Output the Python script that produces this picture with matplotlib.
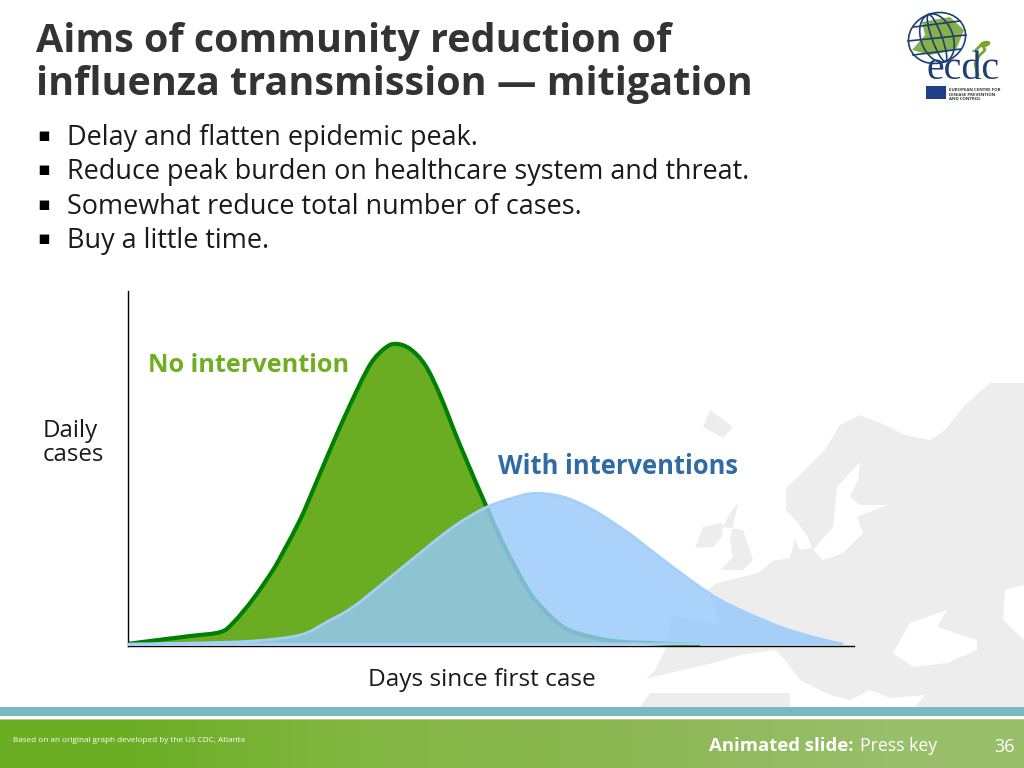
import numpy as np
import matplotlib
matplotlib.use("Agg")
import matplotlib.pyplot as plt
from matplotlib.patches import Ellipse, PathPatch, Polygon, Rectangle
from matplotlib.path import Path

# curves (arbitrary units, peak of first curve about 85)
days_none = [0, 4.4, 12.4, 18.4, 21, 25, 29, 31, 34.4, 37, 40.4, 44.4, 48.4, 51.4, 53.6,
             56.4, 59.4, 62.4, 66.4, 71.8, 74.4, 77, 80.4, 83.8, 87, 90.4, 97, 105, 114.4]
cases_none = [0.6, 1.4, 2.8, 3.9, 6.5, 13.2, 21.4, 26.4, 35.5, 43.9, 55.2, 67.9, 79.2, 83.9, 85.1,
              83.7, 79.2, 70.7, 56.6, 38.9, 30.7, 23.4, 14.9, 9.3, 5.4, 3.4, 1.4, 0.8, 0.3]
days_with = [0, 12.4, 25, 34.4, 39.8, 45, 51.8, 58.4, 65, 71.4, 77, 81.4, 87, 93, 99.8,
             106.4, 113, 118.4, 123.8, 130.4, 137, 142.8]
cases_with = [0.5, 0.8, 1.4, 3.1, 6.8, 11, 18.6, 26.2, 33.5, 38.9, 41.7, 43.0, 42, 38.3, 32.1,
              25, 18, 13, 9.3, 5.4, 2.5, 0.6]

title_lines = ["Aims of community reduction of", "influenza transmission \u2014 mitigation"]
bullets = ["Delay and flatten epidemic peak.",
           "Reduce peak burden on healthcare system and threat.",
           "Somewhat reduce total number of cases.",
           "Buy a little time."]

W, H = 1024, 768
plt.rcParams["font.family"] = ["Open Sans", "DejaVu Sans"]
fig = plt.figure(figsize=(W / 100, H / 100), dpi=100)


def px_text(x, y, s, size, color="#1a1a1a", weight="normal", **kw):
    # x, y in picture pixels, y is the baseline, size in pixels
    return fig.text(x / W, 1 - y / H, s, fontsize=size * 0.72, color=color,
                    fontweight=weight, va="baseline", **kw)


def smooth_path(xs, ys, close=False):
    # bezier through the read points, so the curve has no corners
    pts = np.column_stack([xs, ys]).astype(float)
    verts = [pts[0]]
    codes = [Path.MOVETO]
    for i in range(len(pts) - 1):
        p0 = pts[max(i - 1, 0)]
        p1 = pts[i]
        p2 = pts[i + 1]
        p3 = pts[min(i + 2, len(pts) - 1)]
        verts += [p1 + (p2 - p0) / 6, p2 - (p3 - p1) / 6, p2]
        codes += [Path.CURVE4] * 3
    if close:
        verts.append(pts[0])
        codes.append(Path.LINETO)
    return Path(np.array(verts), codes)


# slide background: pixel-coordinate axes
bg = fig.add_axes([0, 0, 1, 1])
bg.set_xlim(0, W)
bg.set_ylim(H, 0)
bg.axis("off")

GREY = "#ededed"
land = [[(1024, 383), (990, 383), (965, 405), (945, 430), (930, 440), (905, 435), (885, 425), (860, 415),
         (840, 425), (825, 450), (800, 475), (786, 488), (786, 510), (797, 522), (808, 537), (812, 548),
         (800, 550), (795, 540), (790, 558), (773, 561), (758, 573), (717, 583), (708, 590), (722, 626),
         (672, 616), (665, 650), (655, 670), (645, 680), (650, 693), (640, 707), (1024, 707)],
        [(710, 410), (733, 427), (723, 438), (703, 427), (708, 415)],
        [(695, 548), (703, 527), (723, 523), (722, 537), (713, 547)],
        [(738, 503), (730, 513), (723, 527), (743, 530), (753, 560), (743, 570), (720, 570), (733, 557),
         (730, 540)]]
seas = [[(860, 462), (837, 487), (833, 527), (813, 550), (823, 560), (843, 553), (863, 533), (857, 517),
         (887, 505), (860, 505), (850, 497), (858, 480)],
        [(640, 680), (713, 663), (740, 655), (775, 650), (785, 660), (800, 680), (830, 695), (850, 700),
         (870, 690), (890, 698), (925, 695), (915, 707), (790, 707), (790, 693), (650, 693)],
        [(893, 653), (910, 623), (947, 610), (937, 627), (977, 640), (977, 650), (947, 663), (913, 667)],
        [(1024, 585), (1005, 590), (1003, 620), (1024, 640)]]
for p in land:
    bg.add_patch(Polygon(p, closed=True, fc=GREY, ec="none", zorder=1))
for p in seas:
    bg.add_patch(Polygon(p, closed=True, fc="white", ec="none", zorder=2))

# footer bands
bg.add_patch(Rectangle((0, 707), W, 9, fc="#7ab9c2", ec="none", zorder=3))
bg.add_patch(Rectangle((0, 716), W, 4, fc="white", ec="none", zorder=3))
bg.add_patch(Rectangle((0, 719), W, 1, fc="#b5c9a0", ec="none", zorder=3))
grad = np.array([[[0.42, 0.68, 0.14], [0.52, 0.72, 0.27], [0.55, 0.72, 0.33], [0.60, 0.75, 0.42]]])
bg.imshow(grad, extent=(0, W, 768, 720), aspect="auto", interpolation="bilinear", zorder=3)
bg.set_xlim(0, W)
bg.set_ylim(H, 0)

# logo
NAVY = "#1d3f72"
LEAF = "#86b04a"
bg.add_patch(Polygon([(922, 22), (950, 17), (964, 30), (956, 50), (930, 55), (912, 50), (925, 35)],
                     closed=True, fc=LEAF, ec="none", zorder=5))
for w in (58, 32, 10):
    bg.add_patch(Ellipse((937, 38), w, 50, angle=-20, fc="none", ec=NAVY, lw=1.2, zorder=6))
for dy, w in ((-14, 46), (0, 58), (14, 48)):
    bg.plot([937 - w / 2, 937 + w / 2], [38 + dy + 3, 38 + dy - 3], color=NAVY, lw=1.2, zorder=6)
bg.plot([978, 975, 979, 985, 982, 976], [75, 64, 56, 50, 44, 50], color="#7aa62e", lw=2, zorder=6)
bg.add_patch(Ellipse((985, 44), 11, 6, angle=-15, fc="#7aa62e", ec="none", zorder=6))
px_text(926, 79, "ecdc", 40, color=NAVY, family="Liberation Serif")
bg.add_patch(Rectangle((926, 86), 20, 13, fc="#1f3f86", ec="none", zorder=6))
for i, line in enumerate(["EUROPEAN CENTRE FOR", "DISEASE PREVENTION", "AND CONTROL"]):
    px_text(949, 91 + i * 4.6, line, 4.4, color="#333333", weight="bold")

# chart
left, right, top, bottom = 128, 854, 291, 646
ax = fig.add_axes([left / W, 1 - bottom / H, (right - left) / W, (bottom - top) / H])
ax.patch.set_alpha(0)
ax.set_xlim(0, 145.2)
ax.set_ylim(0, 100)
ax.set_xticks([])
ax.set_yticks([])
ax.spines[["top", "right"]].set_visible(False)
for s in ("left", "bottom"):
    ax.spines[s].set_linewidth(1)
    ax.spines[s].set_color("black")

ax.add_patch(PathPatch(smooth_path(days_none, cases_none, close=True), fc="#6bad22", ec="none", zorder=2))
ax.add_patch(PathPatch(smooth_path(days_none, cases_none), fc="none", ec="#008000", lw=3,
                       joinstyle="round", zorder=2))
ax.add_patch(PathPatch(smooth_path(days_with, cases_with, close=True), fc="#97c9fa", ec="none",
                       alpha=0.82, zorder=3))
ax.add_patch(PathPatch(smooth_path(days_with, cases_with, close=True), fc="none", ec="#a4d0f8", lw=2,
                       joinstyle="round", zorder=3))

# text
for i, line in enumerate(title_lines):
    px_text(36, 52 + i * 43, line, 39.5, color="#333333", weight="bold")
for i, line in enumerate(bullets):
    y = 145 + i * 34.3
    px_text(37, y - 4, "\u25aa", 19, color="black", family="DejaVu Sans")
    px_text(67, y, line, 27, color="#1a1a1a")

px_text(148, 372, "No intervention", 25.2, color="#6fae20", weight="bold")
px_text(498, 474, "With interventions", 25.5, color="#2f6ca5", weight="bold")
px_text(43, 437, "Daily", 24)
px_text(43, 461, "cases", 24)
px_text(368, 686, "Days since first case", 24.4)

px_text(13, 742, "Based on an original graph developed by the US CDC, Atlanta", 8.2, color="white")
px_text(709, 751, "Animated slide:", 18.5, color="white", weight="bold")
px_text(860, 751, "Press key", 17.7, color="white")
px_text(994, 752, "36", 18, color="white")

fig.savefig("out.png", dpi=100)
